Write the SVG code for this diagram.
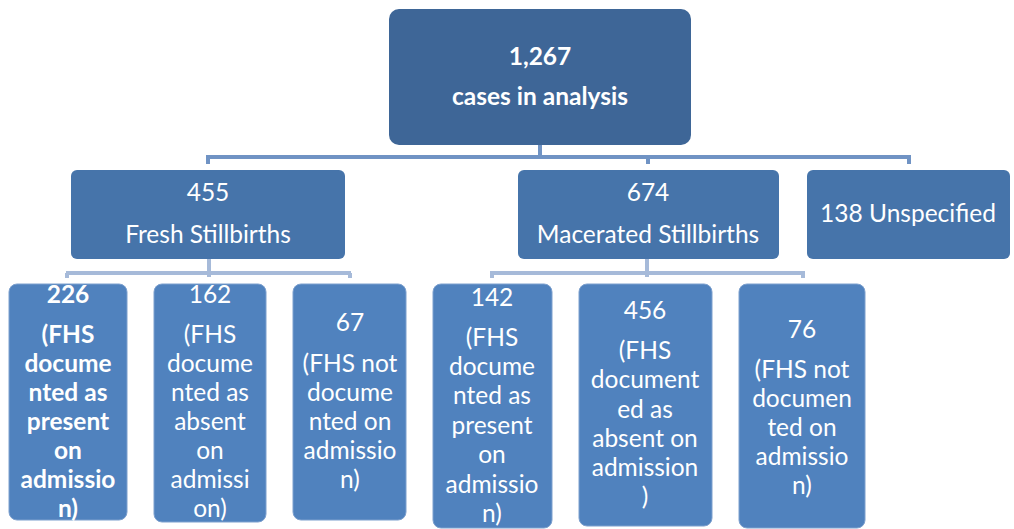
<svg xmlns="http://www.w3.org/2000/svg" width="1014" height="529" viewBox="0 0 1014 529">
<style>
text{font-family:Lato,"Open Sans","Liberation Sans",sans-serif;fill:#fff;text-anchor:middle;font-size:24.5px}
.b{font-weight:bold}
.top{fill:#3E6697}
.l2{fill:#4674AA}
.l3{fill:#5082BE;stroke:#7DA0CE;stroke-width:1}
.c1{fill:none;stroke:#7093C4;stroke-width:4}
.c2{fill:none;stroke:#A6BAD9;stroke-width:4}
</style>
<rect width="1014" height="529" fill="#fff"/>
<g id="connectors">
<path class="c1" d="M540,145 V157 M206,157 H911 M208,157 V164 M648,157 V164 M909,157 V164"/>
<path class="c2" d="M209,259 V277 M66,273 H351 M67,273 V278 M350,273 V278"/>
<path class="c2" d="M647,259 V277 M490,273 H805 M492,273 V278 M803,273 V278"/>
</g>
<g id="root"><rect class="top" x="389" y="9" width="302" height="136" rx="10"/>
<text class="b" x="540" y="65">1,267</text><text class="b" x="540" y="105">cases in analysis</text></g>
<g id="fresh"><rect class="l2" x="71" y="170" width="274" height="89" rx="6"/>
<text x="208" y="201">455</text><text x="208" y="243">Fresh Stillbirths</text></g>
<g id="macerated"><rect class="l2" x="518" y="170" width="261" height="89" rx="6"/>
<text x="648" y="201">674</text><text x="648" y="243">Macerated Stillbirths</text></g>
<g id="unspecified"><rect class="l2" x="807" y="170" width="203" height="89" rx="6"/>
<text x="908" y="222">138 Unspecified</text></g>
<g id="f1"><rect class="l3" x="9" y="284" width="118" height="236" rx="8"/>
<text class="b" x="68"><tspan x="68" y="303">226</tspan><tspan x="68" y="343">(FHS</tspan><tspan x="68" y="372">docume</tspan><tspan x="68" y="401">nted as</tspan><tspan x="68" y="430">present</tspan><tspan x="68" y="459">on</tspan><tspan x="68" y="488">admissio</tspan><tspan x="68" y="517">n)</tspan></text></g>
<g id="f2"><rect class="l3" x="154" y="284" width="112" height="238" rx="8"/>
<text x="210"><tspan x="210" y="303">162</tspan><tspan x="210" y="343">(FHS</tspan><tspan x="210" y="372">docume</tspan><tspan x="210" y="401">nted as</tspan><tspan x="210" y="430">absent</tspan><tspan x="210" y="459">on</tspan><tspan x="210" y="488">admissi</tspan><tspan x="210" y="517">on)</tspan></text></g>
<g id="f3"><rect class="l3" x="293" y="284" width="113" height="236" rx="8"/>
<text x="350"><tspan x="350" y="331">67</tspan><tspan x="350" y="372">(FHS not</tspan><tspan x="350" y="401">docume</tspan><tspan x="350" y="430">nted on</tspan><tspan x="350" y="459">admissio</tspan><tspan x="350" y="488">n)</tspan></text></g>
<g id="m1"><rect class="l3" x="433" y="284" width="119" height="244" rx="8"/>
<text x="492"><tspan x="492" y="306">142</tspan><tspan x="492" y="346">(FHS</tspan><tspan x="492" y="375">docume</tspan><tspan x="492" y="404">nted as</tspan><tspan x="492" y="434">present</tspan><tspan x="492" y="463">on</tspan><tspan x="492" y="493">admissio</tspan><tspan x="492" y="522">n)</tspan></text></g>
<g id="m2"><rect class="l3" x="579" y="284" width="133" height="242" rx="8"/>
<text x="645"><tspan x="645" y="319">456</tspan><tspan x="645" y="359">(FHS</tspan><tspan x="645" y="388">document</tspan><tspan x="645" y="418">ed as</tspan><tspan x="645" y="447">absent on</tspan><tspan x="645" y="476">admission</tspan><tspan x="645" y="505">)</tspan></text></g>
<g id="m3"><rect class="l3" x="739" y="284" width="126" height="244" rx="8"/>
<text x="802"><tspan x="802" y="338">76</tspan><tspan x="802" y="378">(FHS not</tspan><tspan x="802" y="407">documen</tspan><tspan x="802" y="436">ted on</tspan><tspan x="802" y="465">admissio</tspan><tspan x="802" y="494">n)</tspan></text></g>
</svg>
